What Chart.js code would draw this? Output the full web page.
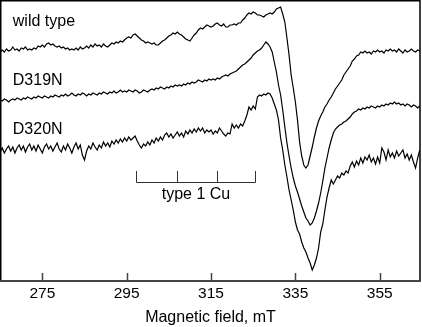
<!DOCTYPE html>
<html>
<head>
<meta charset="utf-8">
<title>EPR spectra</title>
<script src="https://cdn.jsdelivr.net/npm/chart.js@4.4.1/dist/chart.umd.min.js"></script>
<style>
  html, body { margin: 0; padding: 0; background: #fff; }
  #wrap { width: 422px; height: 327px; }
</style>
</head>
<body>
<div id="wrap"><canvas id="epr"></canvas></div>
<script>
const FIELD_START = 265;   // mT, first sample of the sweep
const FIELD_STEP = 0.5;    // mT between samples
const FIELD_TICKS = [275, 295, 315, 335, 355];
const CU_LINES = [297.2, 306.9, 316.4, 325.4];   // type 1 Cu hyperfine positions, mT
const SPECTRUM_NAMES = ["wild type", "D319N", "D320N"];

// stacked first-derivative spectra, arbitrary units (stack offsets already applied)
const wildType = [
  -52,-50,-52,-49,-51,-50,-47,-50,-49,-51,
  -48,-49,-47,-50,-49,-50,-48,-49,-46,-47,
  -45,-47,-44,-43,-45,-44,-46,-47,-46,-48,
  -47,-49,-48,-50,-49,-50,-48,-50,-47,-49,
  -48,-46,-48,-45,-47,-44,-46,-45,-47,-44,
  -46,-47,-45,-43,-44,-42,-43,-41,-42,-40,
  -38,-37,-38,-35,-34,-36,-38,-40,-41,-43,
  -42,-43,-44,-43,-45,-45,-43,-41,-40,-38,
  -36,-35,-33,-34,-32,-34,-35,-37,-39,-40,
  -41,-38,-35,-33,-30,-28,-29,-27,-25,-26,
  -27,-26,-24,-23,-25,-26,-24,-27,-27,-25,
  -25,-24,-25,-23,-23,-20,-18,-15,-13,-14,
  -12,-13,-15,-15,-16,-17,-15,-14,-13,-14,
  -12,-9,-8,-7,-14,-22,-38,-55,-75,-88,
  -102,-120,-142,-156,-165,-168,-165,-156,-147,-137,
  -128,-121,-116,-112,-107,-104,-100,-97,-93,-89,
  -86,-83,-80,-75,-72,-69,-66,-61,-59,-56,
  -55,-52,-53,-51,-53,-52,-54,-51,-52,-50,
  -52,-51,-53,-50,-51,-49,-51,-50,-52,-49,
  -51,-53,-50,-52,-51,-49,-51,-52,-50,-51
];

const d319n = [
  -100,-101,-99,-100,-102,-100,-99,-100,-98,-99,
  -100,-98,-99,-97,-98,-99,-97,-98,-96,-97,
  -98,-96,-97,-98,-96,-97,-95,-96,-97,-95,
  -96,-94,-96,-95,-93,-95,-96,-94,-95,-93,
  -94,-96,-94,-95,-93,-94,-95,-93,-94,-92,
  -93,-94,-92,-93,-91,-93,-92,-90,-92,-91,
  -92,-90,-91,-92,-90,-91,-93,-92,-90,-91,
  -92,-90,-89,-90,-88,-89,-87,-88,-89,-87,
  -88,-86,-87,-85,-86,-85,-86,-84,-85,-83,
  -84,-82,-83,-82,-80,-81,-82,-80,-81,-79,
  -80,-79,-80,-78,-79,-77,-76,-75,-76,-74,
  -73,-72,-71,-69,-67,-65,-64,-62,-60,-58,
  -55,-53,-51,-50,-48,-45,-42,-44,-47,-52,
  -62,-72,-85,-95,-110,-127,-143,-156,-168,-178,
  -186,-192,-199,-206,-212,-218,-221,-225,-223,-218,
  -211,-203,-193,-181,-168,-158,-148,-140,-133,-129,
  -127,-125,-124,-122,-121,-119,-117,-114,-112,-111,
  -109,-110,-108,-109,-107,-108,-106,-107,-108,-106,
  -107,-105,-106,-104,-105,-103,-104,-102,-104,-103,
  -105,-104,-106,-104,-105,-107,-105,-106,-108,-106
];

const d320n = [
  -152,-148,-153,-149,-146,-151,-147,-153,-148,-145,
  -150,-146,-152,-147,-144,-150,-146,-151,-145,-149,
  -153,-147,-144,-149,-146,-151,-147,-143,-149,-152,
  -146,-150,-144,-148,-153,-147,-143,-149,-145,-155,
  -160,-151,-146,-149,-143,-147,-150,-145,-148,-142,
  -146,-143,-147,-141,-144,-140,-143,-139,-142,-138,
  -141,-137,-140,-138,-136,-141,-145,-148,-144,-146,
  -142,-145,-140,-143,-138,-141,-137,-140,-135,-133,
  -137,-134,-138,-135,-132,-136,-133,-137,-131,-134,
  -130,-133,-129,-132,-128,-131,-128,-133,-130,-132,
  -130,-134,-131,-133,-128,-131,-134,-136,-133,-134,
  -124,-128,-125,-128,-124,-126,-121,-115,-107,-110,
  -106,-109,-97,-95,-96,-94,-95,-93,-94,-98,
  -104,-110,-120,-138,-150,-165,-177,-190,-200,-210,
  -222,-230,-234,-242,-248,-252,-258,-263,-270,-265,
  -258,-248,-232,-224,-210,-197,-188,-180,-184,-180,
  -176,-178,-173,-175,-171,-173,-166,-162,-167,-161,
  -165,-158,-163,-157,-160,-155,-162,-158,-164,-157,
  -163,-148,-152,-160,-150,-157,-153,-158,-151,-156,
  -153,-150,-158,-154,-160,-155,-162,-168,-158,-150
];

const field = wildType.map((_, i) => FIELD_START + i * FIELD_STEP);
const FONT = "'Liberation Sans', Arial, Helvetica, sans-serif";

function trace(values) {
    return {
        data: values.map((v, i) => ({ x: field[i], y: v })),
        borderColor: "#000",
        borderWidth: 1.2,
        pointRadius: 0,
        tension: 0,
        fill: false,
    };
}

// frame, inward ticks, trace names and the Cu hyperfine marker
const decorations = {
    id: "decorations",
    afterDraw(chart) {
        const { ctx, chartArea: a, scales } = chart;
        const x = scales.x;
        const y = scales.y;
        ctx.save();

        ctx.strokeStyle = "#000";
        ctx.lineWidth = 1.5;
        ctx.beginPath();
        ctx.moveTo(a.left - 0.25, a.bottom);
        ctx.lineTo(a.left - 0.25, a.top - 0.25);
        ctx.lineTo(a.right, a.top - 0.25);
        ctx.lineTo(a.right, a.bottom);
        ctx.stroke();

        ctx.strokeStyle = "#444";
        ctx.lineWidth = 2;
        ctx.beginPath();
        ctx.moveTo(a.left - 1, a.bottom);
        ctx.lineTo(a.right + 1, a.bottom);
        ctx.stroke();

        ctx.lineWidth = 1.5;
        ctx.beginPath();
        FIELD_TICKS.forEach((t) => {
            const px = Math.round(x.getPixelForValue(t)) + 0.5;
            ctx.moveTo(px, a.bottom);
            ctx.lineTo(px, a.bottom - 8);
        });
        ctx.stroke();

        ctx.fillStyle = "#000";
        ctx.font = `16px ${FONT}`;
        ctx.textAlign = "left";
        ctx.textBaseline = "alphabetic";
        const nameBaselines = [-26, -85, -134];
        SPECTRUM_NAMES.forEach((name, i) => {
            ctx.fillText(name, x.getPixelForValue(268), y.getPixelForValue(nameBaselines[i]));
        });

        const barY = Math.round(y.getPixelForValue(-182)) + 0.5;
        const tickTop = y.getPixelForValue(-171);
        const xs = CU_LINES.map((f) => Math.round(x.getPixelForValue(f)) + 0.5);
        ctx.strokeStyle = "#333";
        ctx.lineWidth = 1;
        ctx.beginPath();
        ctx.moveTo(xs[0], barY);
        ctx.lineTo(xs[xs.length - 1], barY);
        xs.forEach((px) => {
            ctx.moveTo(px, barY);
            ctx.lineTo(px, tickTop);
        });
        ctx.stroke();

        ctx.textAlign = "center";
        ctx.fillText("type 1 Cu", (xs[0] + xs[xs.length - 1]) / 2, y.getPixelForValue(-199));
        ctx.restore();
    },
};

new Chart(document.getElementById("epr"), {
    type: "line",
    data: { datasets: [trace(wildType), trace(d319n), trace(d320n)] },
    options: {
        responsive: true,
        maintainAspectRatio: false,
        animation: false,
        events: [],
        layout: { padding: { left: 1, right: 2, top: 1, bottom: 0 } },
        plugins: { legend: { display: false }, tooltip: { enabled: false } },
        scales: {
            x: {
                type: "linear",
                min: 265.2,
                max: 364.55,
                afterBuildTicks: (scale) => {
                    scale.ticks = FIELD_TICKS.map((v) => ({ value: v }));
                },
                afterFit: (scale) => {
                    scale.height = 46;
                },
                grid: { display: false, drawTicks: false },
                border: { display: false },
                ticks: {
                    padding: 3,
                    color: "#000",
                    maxRotation: 0,
                    autoSkip: false,
                    font: { family: FONT, size: 15.5 },
                },
                title: {
                    display: true,
                    text: "Magnetic field, mT",
                    color: "#000",
                    font: { family: FONT, size: 16 },
                    padding: { top: 0, bottom: 0 },
                },
            },
            y: {
                display: false,
                min: -281,
                max: -1,
            },
        },
    },
    plugins: [decorations],
});
</script>
</body>
</html>
